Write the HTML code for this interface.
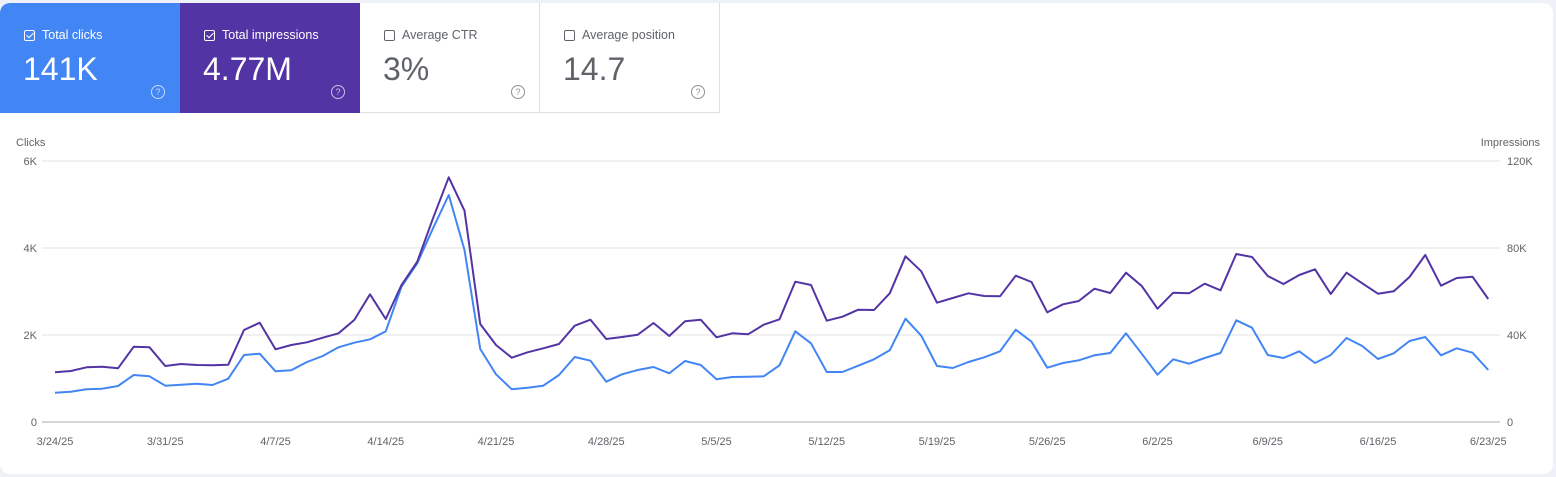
<!DOCTYPE html>
<html><head><meta charset="utf-8"><style>
body{margin:0;width:1556px;height:477px;background:#eef1f7;font-family:"Liberation Sans",sans-serif;overflow:hidden;position:relative}
.card{position:absolute;left:0;top:3px;width:1553px;height:471px;background:#fff;border-radius:10px;overflow:hidden}
.tile{position:absolute;top:0;width:180px;height:110px;box-sizing:border-box}
.lab{position:absolute;left:24px;top:25px;font-size:12.5px;display:flex;align-items:center}
.cb{width:11px;height:11px;border:1.3px solid currentColor;border-radius:2px;margin-right:7px;position:relative;box-sizing:border-box}
.cb.c::after{content:"";position:absolute;left:3px;top:0px;width:3px;height:6px;border:solid currentColor;border-width:0 1.3px 1.3px 0;transform:rotate(45deg)}
.val{position:absolute;left:23px;top:48px;font-size:32px}
.q{position:absolute;left:151px;top:82px;width:12px;height:12px;border:1.2px solid currentColor;border-radius:50%;font-size:9px;line-height:12px;text-align:center;opacity:.7}
.ax{position:absolute;font-size:11px;color:#5f6368}
</style></head><body>
<div class="card">
<div class="tile" style="left:0;background:#4285f4;color:#fff"><div class="lab"><span class="cb c"></span>Total clicks</div><div class="val">141K</div><div class="q">?</div></div>
<div class="tile" style="left:180px;background:#5334a5;color:#fff"><div class="lab"><span class="cb c"></span>Total impressions</div><div class="val">4.77M</div><div class="q">?</div></div>
<div class="tile" style="left:360px;color:#5f6368;border-right:1px solid #e0e0e0;border-bottom:1px solid #e0e0e0"><div class="lab"><span class="cb"></span>Average CTR</div><div class="val">3%</div><div class="q">?</div></div>
<div class="tile" style="left:540px;color:#5f6368;border-right:1px solid #e0e0e0;border-bottom:1px solid #e0e0e0"><div class="lab"><span class="cb"></span>Average position</div><div class="val">14.7</div><div class="q">?</div></div>
</div>
<div class="ax" style="left:16px;top:137px">Clicks</div>
<div class="ax" style="right:16px;top:137px">Impressions</div>
<svg id="s" width="1556" height="477" style="position:absolute;left:0;top:0" font-family="Liberation Sans, sans-serif" font-size="11" fill="#5f6368"></svg>
<script>
var s=document.getElementById('s'),h='';
var gy=[161,248,335,422],lt=['6K','4K','2K','0'],rt=['120K','80K','40K','0'];
for(var k=0;k<4;k++){h+='<line x1="42" x2="1500" y1="'+gy[k]+'" y2="'+gy[k]+'" stroke="'+(k==3?'#c8c8c8':'#ececec')+'" stroke-width="1.5"/>';
h+='<text x="37" y="'+(gy[k]+4)+'" text-anchor="end">'+lt[k]+'</text><text x="1507" y="'+(gy[k]+4)+'">'+rt[k]+'</text>';}
var dl=['3/24/25','3/31/25','4/7/25','4/14/25','4/21/25','4/28/25','5/5/25','5/12/25','5/19/25','5/26/25','6/2/25','6/9/25','6/16/25','6/23/25'];
for(var k=0;k<14;k++)h+='<text x="'+(55+110.25*k)+'" y="445" text-anchor="middle">'+dl[k]+'</text>';
var P=[372.3,371,367.3,366.7,368.3,346.7,347.3,366,364,365,365.3,364.7,330,322.7,349.3,345,342.3,337.7,333.3,320,294.3,319,285,261.7,218.3,177.3,210.7,324,345,357.7,352.3,348.3,
344,325.7,319.7,339,337,334.7,323,336,321.3,319.7,337.3,333.3,334.3,324.7,319.3,281.7,285,320.7,316.7,309.7,310,293.3,256.3,271.3,302.7,298,293.3,296,296.3,275.7,
282,312.3,304.3,301,288.7,293,272.7,286,308.7,292.7,293.3,283.7,290.3,254,257,276,284,275,269.3,294,272.7,283.3,293.7,291.3,277,255,285.7,278,276.7,299];
var B=[392.7,391.7,389.3,388.7,386,375,376.3,385.7,384.7,383.7,385,378.7,355,353.7,371.3,370.3,362,356,347.3,342.7,339.3,331.3,286.7,263.3,228.3,195,250,349,374.3,389.3,387.7,385.7,
375,357,360.7,381.7,374.3,370,367,373.3,361,365,379.3,377,376.7,376.3,365.3,331.3,343.3,372,372,365.7,359.3,350.3,318.7,335.7,366,368,362,357.3,351.3,329.7,
341.7,367.7,363,360.3,355.3,353,333.3,353.7,374.7,359.3,363.7,358,353,320.3,327.7,355,358,351.3,363,355,338,346,359,353.3,341,337,355.3,348.3,352.7,370];
function pts(a){return a.map(function(y,i){return (55+15.75*i).toFixed(2)+','+y}).join(' ')}
h+='<polyline fill="none" stroke="#4285f4" stroke-width="2" stroke-linejoin="round" points="'+pts(B)+'"/>';
h+='<polyline fill="none" stroke="#5334a5" stroke-width="2" stroke-linejoin="round" points="'+pts(P)+'"/>';
s.innerHTML=h;
</script>
</body></html>
